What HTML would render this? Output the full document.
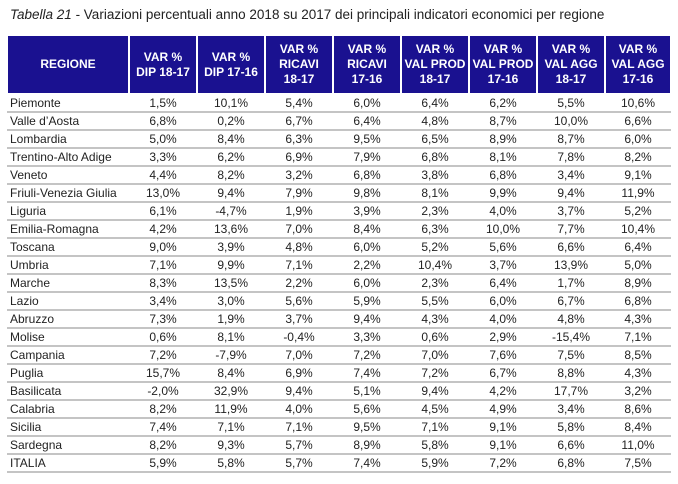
<!DOCTYPE html>
<html><head><meta charset="utf-8"><style>
body{margin:0;background:#fff;width:678px;height:484px;overflow:hidden;font-family:"Liberation Sans",sans-serif;}
.t{position:absolute;left:10px;top:7px;font-size:13.5px;color:#222;}
table{position:absolute;left:6px;top:34px;border-collapse:collapse;table-layout:fixed;}
th{background:#1a1190;color:#fff;font-size:12px;font-weight:bold;line-height:15px;height:57px;padding:0;border:2px solid #fff;text-align:center;}
td{height:16px;font-size:12px;color:#222;padding:0;border-bottom:2px solid #c4c4c4;text-align:center;line-height:16px;}
td:first-child{text-align:left;padding-left:3px;}
</style></head><body>
<div class="t"><i>Tabella 21</i> - Variazioni percentuali anno 2018 su 2017 dei principali indicatori economici per regione</div>
<table>
<colgroup><col style="width:122px"><col style="width:68px"><col style="width:68px"><col style="width:68px"><col style="width:68px"><col style="width:68px"><col style="width:68px"><col style="width:68px"><col style="width:66px"></colgroup>
<tr><th>REGIONE</th><th>VAR %<br>DIP 18-17</th><th>VAR %<br>DIP 17-16</th><th>VAR %<br>RICAVI<br>18-17</th><th>VAR %<br>RICAVI<br>17-16</th><th>VAR %<br>VAL PROD<br>18-17</th><th>VAR %<br>VAL PROD<br>17-16</th><th>VAR %<br>VAL AGG<br>18-17</th><th>VAR %<br>VAL AGG<br>17-16</th></tr>
<tr><td>Piemonte</td><td>1,5%</td><td>10,1%</td><td>5,4%</td><td>6,0%</td><td>6,4%</td><td>6,2%</td><td>5,5%</td><td>10,6%</td></tr>
<tr><td>Valle d’Aosta</td><td>6,8%</td><td>0,2%</td><td>6,7%</td><td>6,4%</td><td>4,8%</td><td>8,7%</td><td>10,0%</td><td>6,6%</td></tr>
<tr><td>Lombardia</td><td>5,0%</td><td>8,4%</td><td>6,3%</td><td>9,5%</td><td>6,5%</td><td>8,9%</td><td>8,7%</td><td>6,0%</td></tr>
<tr><td>Trentino-Alto Adige</td><td>3,3%</td><td>6,2%</td><td>6,9%</td><td>7,9%</td><td>6,8%</td><td>8,1%</td><td>7,8%</td><td>8,2%</td></tr>
<tr><td>Veneto</td><td>4,4%</td><td>8,2%</td><td>3,2%</td><td>6,8%</td><td>3,8%</td><td>6,8%</td><td>3,4%</td><td>9,1%</td></tr>
<tr><td>Friuli-Venezia Giulia</td><td>13,0%</td><td>9,4%</td><td>7,9%</td><td>9,8%</td><td>8,1%</td><td>9,9%</td><td>9,4%</td><td>11,9%</td></tr>
<tr><td>Liguria</td><td>6,1%</td><td>-4,7%</td><td>1,9%</td><td>3,9%</td><td>2,3%</td><td>4,0%</td><td>3,7%</td><td>5,2%</td></tr>
<tr><td>Emilia-Romagna</td><td>4,2%</td><td>13,6%</td><td>7,0%</td><td>8,4%</td><td>6,3%</td><td>10,0%</td><td>7,7%</td><td>10,4%</td></tr>
<tr><td>Toscana</td><td>9,0%</td><td>3,9%</td><td>4,8%</td><td>6,0%</td><td>5,2%</td><td>5,6%</td><td>6,6%</td><td>6,4%</td></tr>
<tr><td>Umbria</td><td>7,1%</td><td>9,9%</td><td>7,1%</td><td>2,2%</td><td>10,4%</td><td>3,7%</td><td>13,9%</td><td>5,0%</td></tr>
<tr><td>Marche</td><td>8,3%</td><td>13,5%</td><td>2,2%</td><td>6,0%</td><td>2,3%</td><td>6,4%</td><td>1,7%</td><td>8,9%</td></tr>
<tr><td>Lazio</td><td>3,4%</td><td>3,0%</td><td>5,6%</td><td>5,9%</td><td>5,5%</td><td>6,0%</td><td>6,7%</td><td>6,8%</td></tr>
<tr><td>Abruzzo</td><td>7,3%</td><td>1,9%</td><td>3,7%</td><td>9,4%</td><td>4,3%</td><td>4,0%</td><td>4,8%</td><td>4,3%</td></tr>
<tr><td>Molise</td><td>0,6%</td><td>8,1%</td><td>-0,4%</td><td>3,3%</td><td>0,6%</td><td>2,9%</td><td>-15,4%</td><td>7,1%</td></tr>
<tr><td>Campania</td><td>7,2%</td><td>-7,9%</td><td>7,0%</td><td>7,2%</td><td>7,0%</td><td>7,6%</td><td>7,5%</td><td>8,5%</td></tr>
<tr><td>Puglia</td><td>15,7%</td><td>8,4%</td><td>6,9%</td><td>7,4%</td><td>7,2%</td><td>6,7%</td><td>8,8%</td><td>4,3%</td></tr>
<tr><td>Basilicata</td><td>-2,0%</td><td>32,9%</td><td>9,4%</td><td>5,1%</td><td>9,4%</td><td>4,2%</td><td>17,7%</td><td>3,2%</td></tr>
<tr><td>Calabria</td><td>8,2%</td><td>11,9%</td><td>4,0%</td><td>5,6%</td><td>4,5%</td><td>4,9%</td><td>3,4%</td><td>8,6%</td></tr>
<tr><td>Sicilia</td><td>7,4%</td><td>7,1%</td><td>7,1%</td><td>9,5%</td><td>7,1%</td><td>9,1%</td><td>5,8%</td><td>8,4%</td></tr>
<tr><td>Sardegna</td><td>8,2%</td><td>9,3%</td><td>5,7%</td><td>8,9%</td><td>5,8%</td><td>9,1%</td><td>6,6%</td><td>11,0%</td></tr>
<tr><td>ITALIA</td><td>5,9%</td><td>5,8%</td><td>5,7%</td><td>7,4%</td><td>5,9%</td><td>7,2%</td><td>6,8%</td><td>7,5%</td></tr>
</table>
</body></html>
